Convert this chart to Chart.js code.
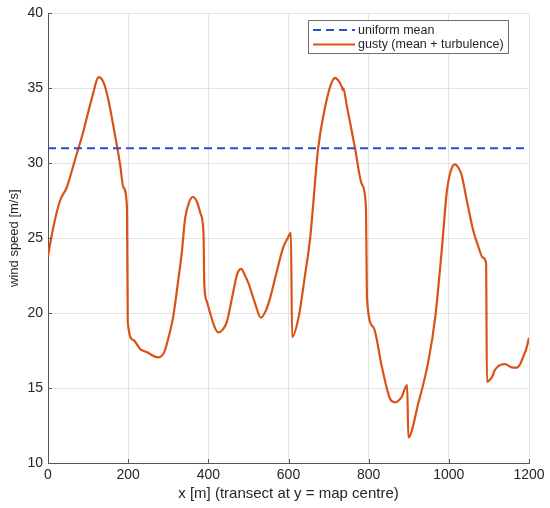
<!DOCTYPE html>
<html>
<head>
<meta charset="utf-8">
<script src="https://cdn.jsdelivr.net/npm/chart.js@4"></script>
<style>
  html, body { margin: 0; padding: 0; background: #fff; }
  #wrap { width: 550px; height: 508px; position: relative; }
</style>
</head>
<body>
<div id="wrap"><canvas id="chartVento"></canvas></div>
<script>
// posições ao longo do transecto [m]
const xPos = [0, 13, 30, 47, 67, 88, 109, 127, 140, 150, 167, 180, 188, 197,
  199, 213, 230, 246, 275, 290, 300, 312, 323, 334, 342, 352, 362, 372, 381, 388,
  390, 396, 404, 416, 425, 436, 446, 462, 472, 482, 490, 500, 516, 531, 544, 554,
  571, 587, 598, 606, 609, 625, 641, 654, 674, 691, 705, 716, 725, 733, 735, 737,
  745, 766, 783, 793, 796, 812, 833, 853, 866, 882, 896, 899, 924, 949, 966, 982,
  995, 1005, 1015, 1024, 1032, 1045, 1061, 1074, 1085, 1093, 1095, 1104, 1109,
  1114, 1125, 1140, 1155, 1169, 1178, 1185, 1193, 1200];

// velocidade com rajadas [m/s]
const gustSpeed = [23.8, 25.7, 27.5, 28.4, 30.2, 32.1, 34.3, 35.75, 35.3, 34.3, 31.9, 29.9, 28.4, 27.1,
  19.4, 18.2, 17.6, 17.4, 17.05, 17.4, 18.3, 19.7, 21.8, 24.1, 26.3, 27.4, 27.75, 27.4, 26.6, 25.3,
  21.9, 20.8, 20.05, 19.05, 18.72, 18.9, 19.4, 21.4, 22.6, 22.95, 22.6, 22.0, 20.7, 19.7, 20.2, 21.0,
  22.8, 24.4, 25.0, 25.35, 18.4, 19.7, 22.5, 25.0, 31.0, 33.7, 35.2, 35.7, 35.5, 35.1, 34.9, 35.0,
  33.9, 31.0, 28.6, 27.2, 20.9, 19.05, 16.4, 14.3, 14.05, 14.4, 15.2, 11.7, 14.0, 16.8, 19.7, 24.1,
  28.1, 29.5, 29.93, 29.7, 29.2, 27.5, 25.5, 24.4, 23.7, 23.3, 15.4, 15.6, 15.8,
  16.15, 16.5, 16.6, 16.4, 16.36, 16.6, 17.05, 17.6, 18.35];

// média uniforme
const meanX = [0, 1200];
const meanSpeed = [31.0, 31.0];

const xTicks = [0, 200, 400, 600, 800, 1000, 1200];
const yTicks = [10, 15, 20, 25, 30, 35, 40];

const FONTE = "'Liberation Sans', Arial, sans-serif";
const AZUL = '#2a4ec8';
const LARANJA = '#d95319';

// legenda dentro do gráfico (estilo matlab)
const legendaBox = {
  id: 'legendaBox',
  afterDraw(chart) {
    const ctx = chart.ctx;
    const x0 = 308, y0 = 20, w = 200, h = 33;
    ctx.save();
    ctx.fillStyle = '#fff';
    ctx.fillRect(x0, y0, w, h);
    ctx.strokeStyle = '#6e6e6e';
    ctx.lineWidth = 1;
    ctx.strokeRect(x0 + 0.5, y0 + 0.5, w, h);
    ctx.font = '12.5px ' + FONTE;
    ctx.fillStyle = '#262626';
    ctx.textBaseline = 'middle';
    chart.data.datasets.forEach((ds, i) => {
      const yy = y0 + 10 + i * 14.5;
      ctx.strokeStyle = ds.borderColor;
      ctx.lineWidth = 2;
      ctx.setLineDash(ds.borderDash || []);
      ctx.beginPath();
      ctx.moveTo(x0 + 5, yy);
      ctx.lineTo(x0 + 47, yy);
      ctx.stroke();
      ctx.setLineDash([]);
      ctx.fillText(ds.label, x0 + 50, yy + 0.5);
    });
    // marquinhas para dentro nos eixos
    const xs = chart.scales.x, ys = chart.scales.y, a = chart.chartArea;
    ctx.strokeStyle = '#555';
    ctx.lineWidth = 1;
    xTicks.forEach(v => {
      const px = Math.round(xs.getPixelForValue(v)) + 0.5;
      ctx.beginPath(); ctx.moveTo(px, a.bottom); ctx.lineTo(px, a.bottom - 4); ctx.stroke();
    });
    yTicks.forEach(v => {
      const py = Math.round(ys.getPixelForValue(v)) + 0.5;
      ctx.beginPath(); ctx.moveTo(a.left, py); ctx.lineTo(a.left + 4, py); ctx.stroke();
    });
    ctx.restore();
  }
};

const ctx = document.getElementById('chartVento').getContext('2d');
window.chartVento = new Chart(ctx, {
  type: 'line',
  data: {
    datasets: [
      {
        label: 'uniform mean',
        data: meanX.map((x, i) => ({ x, y: meanSpeed[i] })),
        borderColor: AZUL,
        borderWidth: 2,
        borderDash: [8, 5],
        pointRadius: 0,
        fill: false
      },
      {
        label: 'gusty (mean + turbulence)',
        data: xPos.map((x, i) => ({ x, y: gustSpeed[i] })),
        borderColor: LARANJA,
        borderWidth: 2.2,
        pointRadius: 0,
        cubicInterpolationMode: 'monotone',
        fill: false
      }
    ]
  },
  options: {
    responsive: true,
    maintainAspectRatio: false,
    animation: false,
    layout: { padding: { top: 11, right: 21, left: 0, bottom: 0 } },
    plugins: { legend: { display: false }, tooltip: { enabled: false } },
    scales: {
      x: {
        type: 'linear',
        min: 0, max: 1200,
        afterBuildTicks: s => { s.ticks = xTicks.map(v => ({ value: v })); },
        afterFit: s => { s.height = 45; },
        ticks: { color: '#262626', font: { family: FONTE, size: 14 }, padding: 4, maxRotation: 0,
                 callback: v => String(v) },
        grid: { color: '#e3e3e3', drawTicks: false },
        border: { color: '#555', width: 1 },
        title: { display: true, text: 'x [m] (transect at y = map centre)', color: '#262626',
                 font: { family: FONTE, size: 15 }, padding: { top: 2, bottom: 5 } }
      },
      y: {
        min: 10, max: 40,
        afterBuildTicks: s => { s.ticks = yTicks.map(v => ({ value: v })); },
        afterFit: s => { s.width = 48; },
        ticks: { color: '#262626', font: { family: FONTE, size: 14 }, padding: 5,
                 callback: v => String(v) },
        grid: { color: '#e3e3e3', drawTicks: false },
        border: { color: '#555', width: 1 },
        title: { display: true, text: 'wind speed [m/s]', color: '#262626',
                 font: { family: FONTE, size: 13 }, padding: { top: 7, bottom: 2 } }
      }
    }
  },
  plugins: [legendaBox]
});
</script>
</body>
</html>
